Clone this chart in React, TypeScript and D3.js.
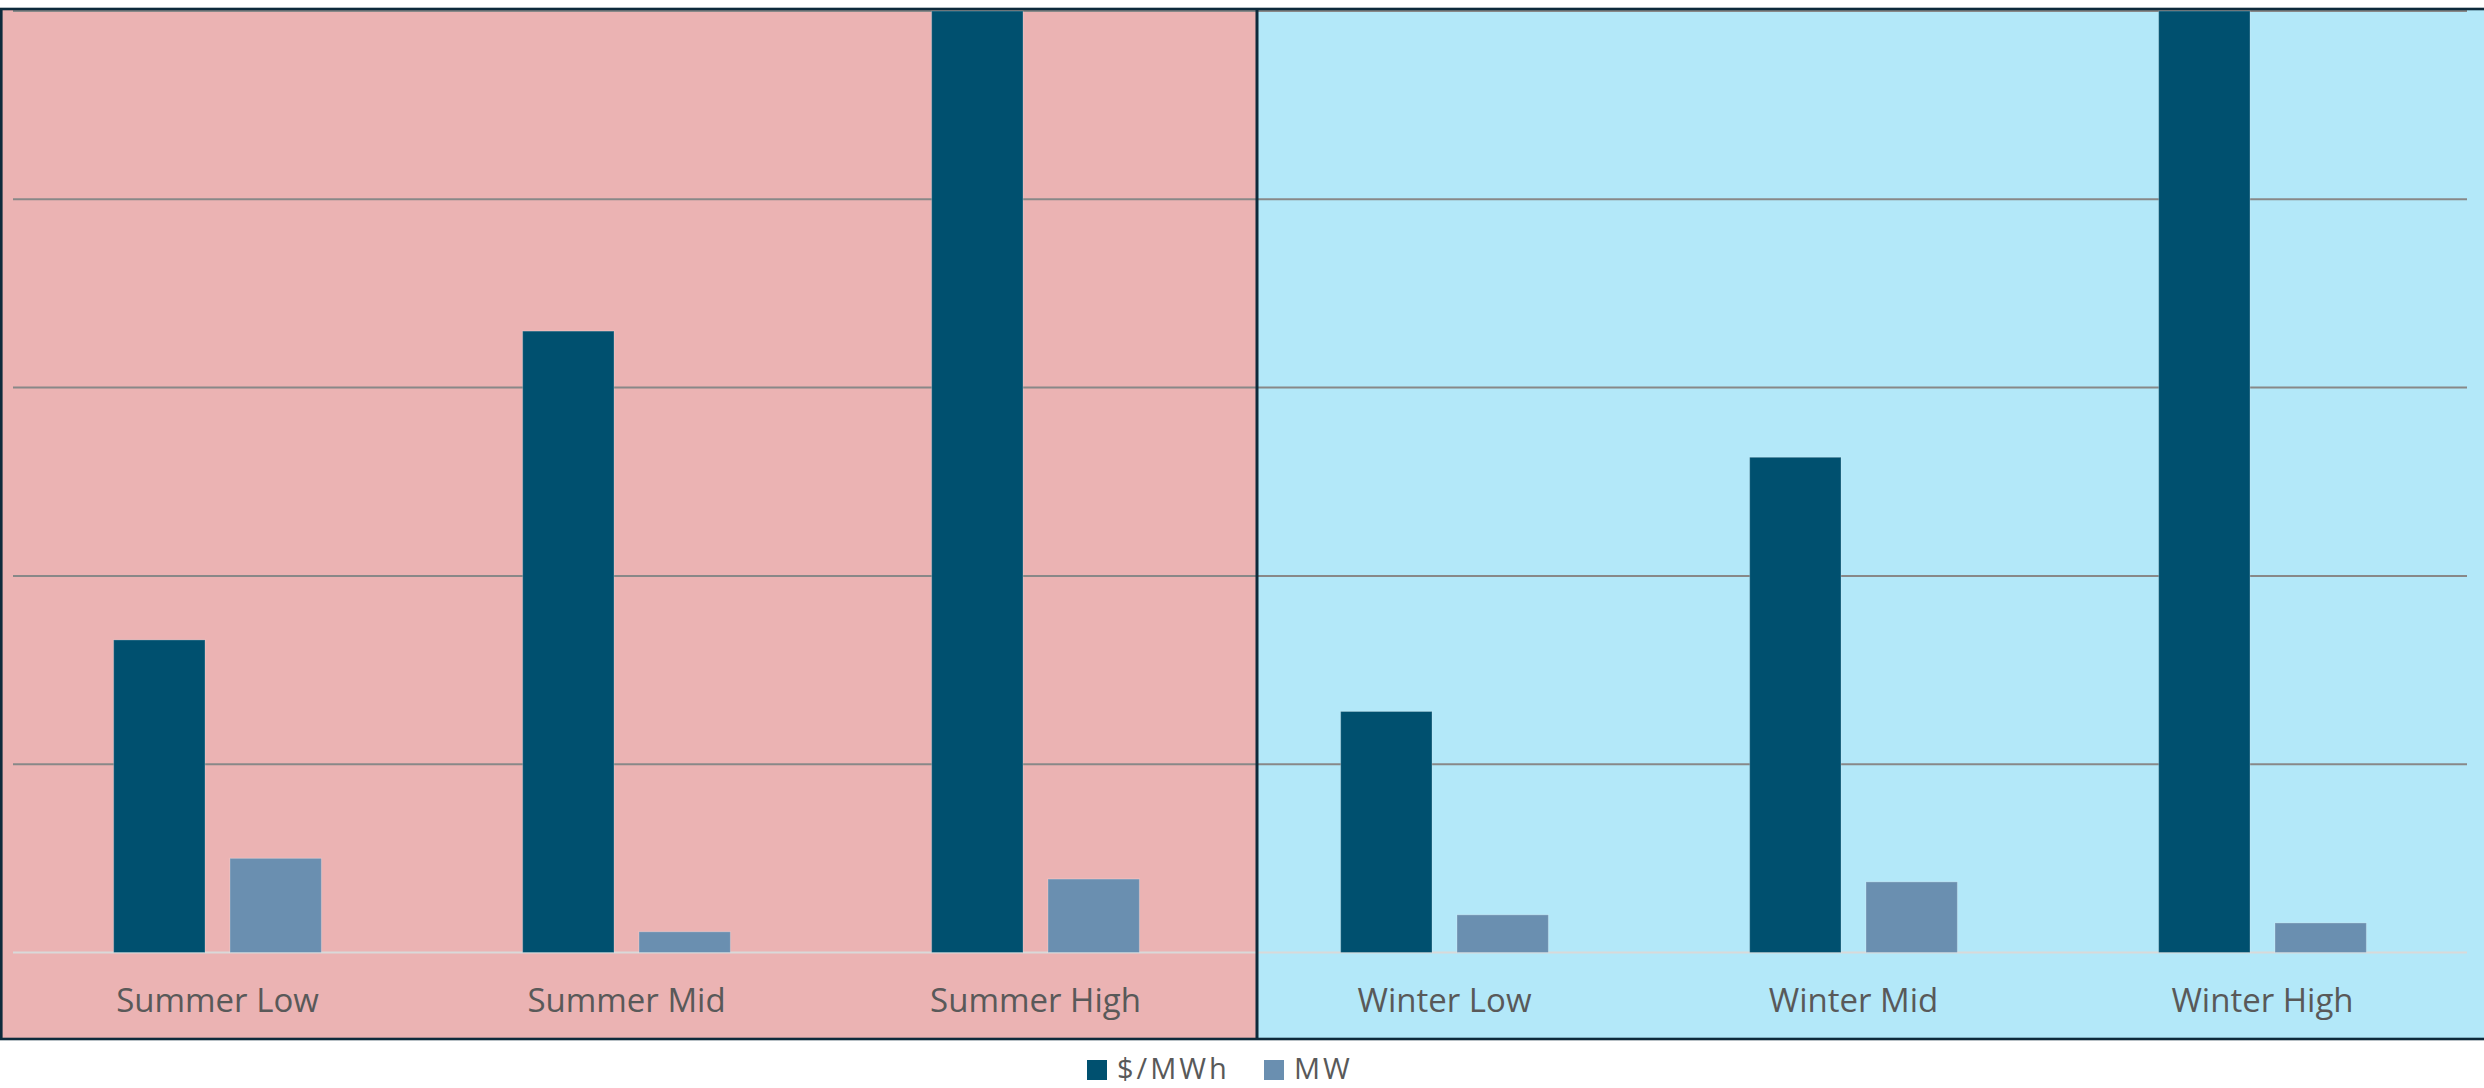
import React, { useEffect, useRef } from 'react';
import * as d3 from 'd3';

const categories = ['Summer Low', 'Summer Mid', 'Summer High', 'Winter Low', 'Winter Mid', 'Winter High'];
const seriesNames = ['$/MWh', 'MW'];
const pricePerMWh = [166, 330, 560, 128, 263, 560]; // High bars run off the top of the axis
const megawatts = [50, 11, 39, 20, 37.5, 15.7];
const gridTicks = [0, 100, 200, 300, 400, 500];

const W = 2484;
const H = 1088;

const App: React.FC = () => {
  const ref = useRef<SVGSVGElement | null>(null);

  useEffect(() => {
    if (!ref.current) return;
    const svg = d3.select(ref.current);
    svg.selectAll('*').remove();

    const font = '"Open Sans", "Noto Sans", sans-serif';
    const frameTop = 9;
    const frameBottom = 1039;
    const divider = 1257;
    const plotLeft = 13;
    const plotRight = 2467;

    const x0 = d3.scaleBand<string>().domain(categories).range([plotLeft, plotRight]);
    const x1 = d3.scaleBand<string>()
      .domain(seriesNames)
      .range([0, x0.bandwidth()])
      .paddingInner(0.2146)
      .paddingOuter(0.865);
    const y = d3.scaleLinear().domain([0, 500]).range([952.5, 11]).clamp(true);
    const colors = d3.scaleOrdinal<string, string>().domain(seriesNames).range(['#00506f', '#6a8fb0']);

    // season backgrounds
    svg.append('rect').attr('x', 0).attr('y', frameTop).attr('width', divider).attr('height', frameBottom - frameTop).attr('fill', '#ebb3b3');
    svg.append('rect').attr('x', divider).attr('y', frameTop).attr('width', W - divider).attr('height', frameBottom - frameTop).attr('fill', '#b3e8f9');

    // gridlines
    svg.append('g')
      .selectAll('line')
      .data(gridTicks)
      .enter()
      .append('line')
      .attr('x1', plotLeft)
      .attr('x2', plotRight)
      .attr('y1', d => y(d))
      .attr('y2', d => y(d))
      .attr('stroke', d => (d === 0 ? '#d9d9d9' : '#888888'))
      .attr('stroke-width', 2);

    // bars
    const rows = categories.map((c, i) => ({ cat: c, values: [pricePerMWh[i], megawatts[i]] }));
    svg.append('g')
      .selectAll('g')
      .data(rows)
      .enter()
      .append('g')
      .attr('transform', d => `translate(${x0(d.cat)},0)`)
      .selectAll('rect')
      .data(d => d.values.map((v, j) => ({ key: seriesNames[j], v })))
      .enter()
      .append('rect')
      .attr('x', d => x1(d.key) as number)
      .attr('width', x1.bandwidth())
      .attr('y', d => y(d.v))
      .attr('height', d => y(0) - y(d.v))
      .attr('fill', d => colors(d.key))
      .attr('stroke', 'rgba(255,255,255,0.25)')
      .attr('stroke-width', 1);

    // category labels
    svg.append('g')
      .selectAll('text')
      .data(categories)
      .enter()
      .append('text')
      .attr('x', d => (x0(d) as number) + x0.bandwidth() / 2)
      .attr('y', 1012)
      .attr('text-anchor', 'middle')
      .attr('font-family', font)
      .attr('font-size', 33)
      .attr('fill', '#595959')
      .text(d => d);

    // frame
    svg.append('line').attr('x1', divider).attr('x2', divider).attr('y1', frameTop).attr('y2', frameBottom)
      .attr('stroke', '#0d2a3b').attr('stroke-width', 3);
    svg.append('rect')
      .attr('x', 1.3).attr('y', frameTop).attr('width', W + 10).attr('height', frameBottom - frameTop)
      .attr('fill', 'none').attr('stroke', '#0d2a3b').attr('stroke-width', 2.6);

    // legend
    const legendX = [1087, 1264];
    const legend = svg.append('g')
      .selectAll('g')
      .data(seriesNames)
      .enter()
      .append('g')
      .attr('transform', (d, i) => `translate(${legendX[i]},1060)`);
    legend.append('rect').attr('width', 20).attr('height', 20).attr('fill', d => colors(d));
    legend.append('text')
      .attr('x', 30)
      .attr('y', 19)
      .attr('font-family', font)
      .attr('font-size', 29)
      .attr('letter-spacing', 3)
      .attr('fill', '#595959')
      .text(d => d);
  }, []);

  return (
    <svg
      ref={ref}
      width={W}
      height={H}
      style={{ position: 'absolute', left: 0, top: 0, display: 'block', background: '#ffffff' }}
    ></svg>
  );
};

export default App;
